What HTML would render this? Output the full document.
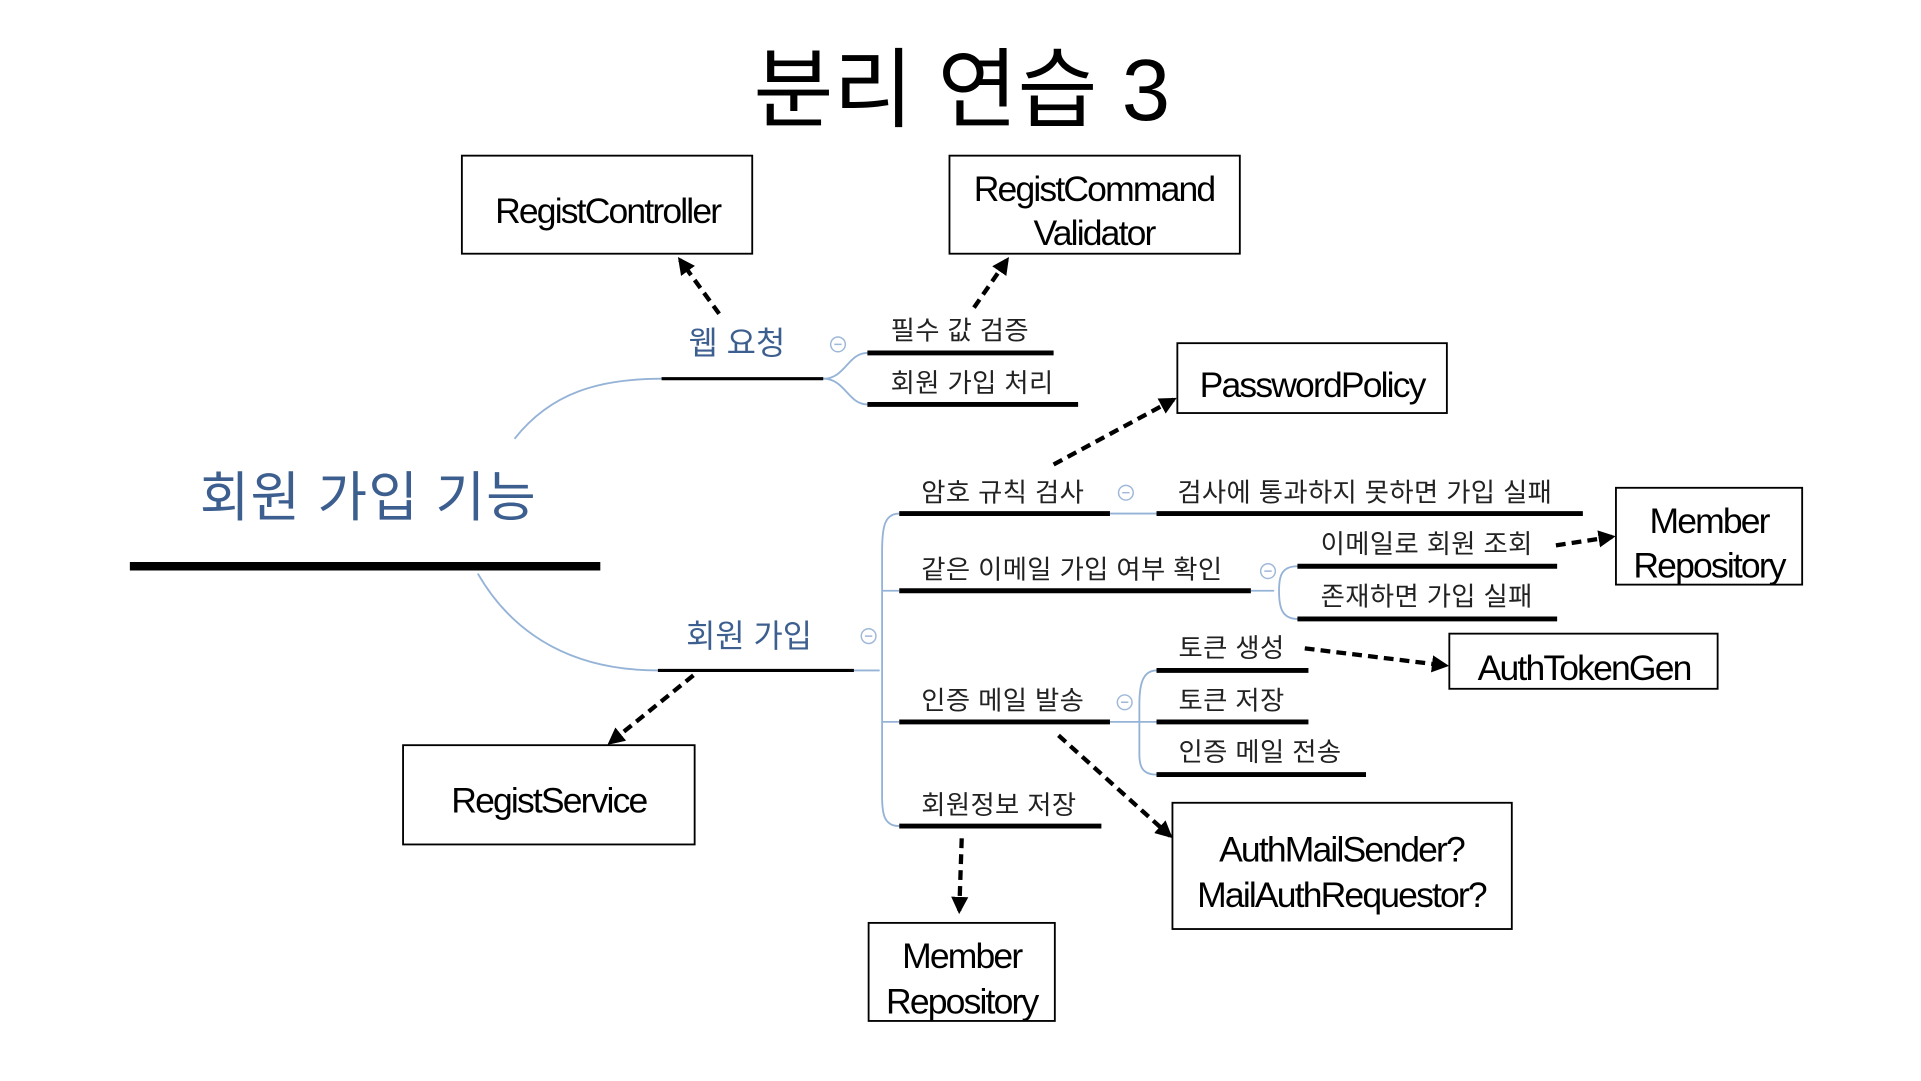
<!DOCTYPE html>
<html><head><meta charset="utf-8"><style>
html,body{margin:0;padding:0;background:#fff;width:1921px;height:1081px;overflow:hidden}
text{font-family:"Liberation Sans","Noto Sans CJK KR",sans-serif}
</style></head><body>
<svg width="1921" height="1081" viewBox="0 0 1568 882" preserveAspectRatio="none" xmlns="http://www.w3.org/2000/svg">
<defs><marker id="a" viewBox="0 0 10 10" refX="8" refY="5" markerWidth="4" markerHeight="4" orient="auto"><path d="M0,0L10,5L0,10z" fill="#000"/></marker></defs>
<rect width="1568" height="882" fill="#fff"/>
<text x="785" y="98" font-size="71" text-anchor="middle">분리 연습 3</text>
<g fill="none" stroke="#000" stroke-width="1.5">
<rect x="377" y="127" width="237" height="80"/>
<rect x="775" y="127" width="237" height="80"/>
<rect x="961" y="280" width="220" height="57"/>
<rect x="1319" y="398" width="152" height="79"/>
<rect x="1183" y="517" width="219" height="45"/>
<rect x="329" y="608" width="238" height="81"/>
<rect x="957" y="655" width="277" height="103"/>
<rect x="709" y="753" width="152" height="80"/>
</g>
<g font-size="29" text-anchor="middle" letter-spacing="-1.5">
<text x="496" y="182">RegistController</text>
<text x="893" y="164">RegistCommand</text><text x="893" y="200">Validator</text>
<text x="1071" y="324">PasswordPolicy</text>
<text x="1395" y="435">Member</text><text x="1395" y="471">Repository</text>
<text x="1293" y="555">AuthTokenGen</text>
<text x="448" y="663">RegistService</text>
<text x="1095" y="703">AuthMailSender?</text><text x="1095" y="740">MailAuthRequestor?</text>
<text x="785" y="790">Member</text><text x="785" y="827">Repository</text>
</g>
<g fill="none" stroke="#95b3d7" stroke-width="1.5">
<path d="M420,358 C450,320 490,309 540,309"/>
<path d="M390,468 C420,520 470,547 537,547"/>
<path d="M672,309 C690,309 692,288 708,288 M672,309 C690,309 692,330 708,330"/>
<path d="M697,547 L718,547 M734,419 C722,419 720,430 720,450 L720,650 C720,665 722,674 734,674 M720,482 C722,482 725,482 734,482 M720,589 L734,589"/>
<path d="M906,419 L944,419"/>
<path d="M1021,482 L1040,482 M1059,462 C1046,462 1044,470 1044,482 C1044,495 1046,505 1059,505"/>
<path d="M906,589 L930,589 M944,547 C932,547 930,560 930,575 L930,615 C930,625 932,632 944,632 M930,589 L944,589"/>
</g>
<g stroke="#9fb8d8" stroke-width="1.2" fill="#fff">
<circle cx="684" cy="281" r="6"/><circle cx="709" cy="519" r="6"/><circle cx="919" cy="402" r="6"/><circle cx="1035" cy="466" r="6"/><circle cx="918" cy="573" r="6"/>
</g>
<g stroke="#9fb8d8" stroke-width="1.2"><path d="M681,281h6M706,519h6M916,402h6M1032,466h6M915,573h6"/></g>
<line x1="106" y1="462" x2="490" y2="462" stroke="#000" stroke-width="7"/>
<g stroke="#000" stroke-width="2.5"><line x1="540" y1="309" x2="672" y2="309"/><line x1="537" y1="547" x2="697" y2="547"/></g>
<g stroke="#000" stroke-width="4">
<line x1="708" y1="288" x2="860" y2="288"/><line x1="708" y1="330" x2="880" y2="330"/>
<line x1="734" y1="419" x2="906" y2="419"/><line x1="734" y1="482" x2="1021" y2="482"/>
<line x1="734" y1="589" x2="906" y2="589"/><line x1="734" y1="674" x2="899" y2="674"/>
<line x1="944" y1="419" x2="1292" y2="419"/>
<line x1="1059" y1="462" x2="1271" y2="462"/><line x1="1059" y1="505" x2="1271" y2="505"/>
<line x1="944" y1="547" x2="1068" y2="547"/><line x1="944" y1="589" x2="1068" y2="589"/><line x1="944" y1="632" x2="1115" y2="632"/>
</g>
<g fill="#3d5f8f"><text x="163" y="421" font-size="44" letter-spacing="1">회원 가입 기능</text>
<text x="562" y="289" font-size="26">웹 요청</text><text x="560" y="528" font-size="26">회원 가입</text></g>
<g font-size="21.5" fill="#222" letter-spacing="0.3">
<text x="727" y="277">필수 값 검증</text><text x="727" y="320">회원 가입 처리</text>
<text x="752" y="409">암호 규칙 검사</text><text x="752" y="472">같은 이메일 가입 여부 확인</text>
<text x="752" y="579">인증 메일 발송</text><text x="752" y="664">회원정보 저장</text>
<text x="961" y="409">검사에 통과하지 못하면 가입 실패</text>
<text x="1078" y="451">이메일로 회원 조회</text><text x="1078" y="494">존재하면 가입 실패</text>
<text x="962" y="536">토큰 생성</text><text x="962" y="579">토큰 저장</text><text x="962" y="621">인증 메일 전송</text>
</g>
<g stroke="#000" stroke-width="3.5" stroke-dasharray="8 5" fill="none" marker-end="url(#a)">
<line x1="587" y1="256" x2="555" y2="212"/>
<line x1="795" y1="251" x2="822" y2="212"/>
<line x1="860" y1="379" x2="958" y2="326"/>
<line x1="1270" y1="445" x2="1316" y2="438"/>
<line x1="1065" y1="529" x2="1180" y2="543"/>
<line x1="566" y1="551" x2="498" y2="606"/>
<line x1="864" y1="600" x2="955" y2="682"/>
<line x1="785" y1="684" x2="783" y2="743"/>
</g>
</svg>
</body></html>
